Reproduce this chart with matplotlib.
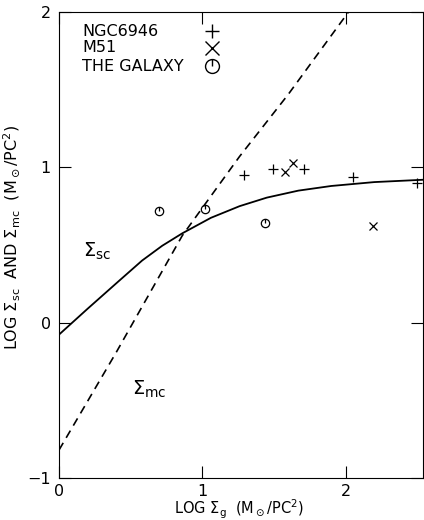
import numpy as np
import matplotlib
matplotlib.use('Agg')
import matplotlib.pyplot as plt
from matplotlib.path import Path

# curves
sc_x = [0.0, 0.2, 0.42, 0.58, 0.72, 0.86, 1.06, 1.26, 1.45, 1.67, 1.9, 2.2, 2.54]
sc_y = [-0.077, 0.09, 0.27, 0.40, 0.495, 0.575, 0.675, 0.75, 0.805, 0.85,
        0.88, 0.905, 0.92]
mc_x = [0.0, 0.4, 0.86, 1.26, 1.6, 2.02]
mc_y = [-0.82, -0.19, 0.56, 1.07, 1.47, 2.0]

# observations
ngc_x = [1.29, 1.49, 1.71, 2.05, 2.50]
ngc_y = [0.95, 0.99, 0.99, 0.94, 0.90]
m51_x = [1.58, 1.63, 2.19]
m51_y = [0.97, 1.03, 0.62]
gal_x = [0.70, 1.02, 1.44]
gal_y = [0.72, 0.73, 0.64]

legend_names = ['NGC6946', 'M51', 'THE GALAXY']

# circle with a tick, like the galaxy symbol
circ = Path.unit_circle()
tick = Path([[0, 0], [0, 1]], [Path.MOVETO, Path.LINETO])
gal_marker = Path.make_compound_path(circ, tick)

plt.rcParams['font.family'] = ['DejaVu Sans']
plt.rcParams['mathtext.fontset'] = 'dejavusans'

fig = plt.figure(figsize=(4.24, 5.20), dpi=100)
ax = fig.add_axes([59/424, 1-478/520, 364/424, 466/520])

ax.plot(sc_x, sc_y, color='black', lw=1.3)
l, = ax.plot(mc_x, mc_y, color='black', lw=1.2)
l.set_dashes((5, 3.5))

ax.plot(ngc_x, ngc_y, ls='none', marker='+', ms=7, mew=0.9, color='black')
ax.plot(m51_x, m51_y, ls='none', marker='x', ms=6, mew=0.9, color='black')
ax.plot(gal_x, gal_y, ls='none', marker=gal_marker, ms=6, mew=0.9,
        mfc='none', mec='black')

ax.set_xlim(0, 2.54)
ax.set_ylim(-1, 2)
ax.set_xticks([0, 1, 2])
ax.set_yticks([-1, 0, 1, 2])
ax.set_xticklabels(['0', '1', '2'])
ax.set_yticklabels(['\u22121', '0', '1', '2'])
ax.tick_params(direction='in', length=8.5, width=0.8, top=True, right=True,
               labelsize=11.5, pad=6)
ax.tick_params(axis='x', pad=4)
for s in ax.spines.values():
    s.set_linewidth(0.8)

# legend block
rows = [0.959, 0.923, 0.884]
marks = ['+', 'x', gal_marker]
for name, yy, mk in zip(legend_names, rows, marks):
    ax.text(0.063, yy, name, transform=ax.transAxes, fontsize=11.5,
            va='center', ha='left')
    ax.plot([0.42], [yy], transform=ax.transAxes, marker=mk, ms=10, mew=1.0,
            mfc='none', mec='black', ls='none', clip_on=False)

ax.text(0.17, 0.46, r'$\Sigma_{\rm sc}$', fontsize=14, ha='left', va='center')
ax.text(0.51, -0.43, r'$\Sigma_{\rm mc}$', fontsize=14, ha='left', va='center')

ax.set_xlabel(r'LOG $\Sigma_{\rm g}$  (M$_\odot$/PC$^2$)', fontsize=10.5)
ax.xaxis.set_label_coords(0.494, -0.043)
ax.set_ylabel(r'LOG $\Sigma_{\rm sc}$  AND $\Sigma_{\rm mc}$  (M$_\odot$/PC$^2$)',
              fontsize=11.5)
ax.yaxis.set_label_coords(-0.102, 0.517)

fig.savefig('out.png', dpi=100)
